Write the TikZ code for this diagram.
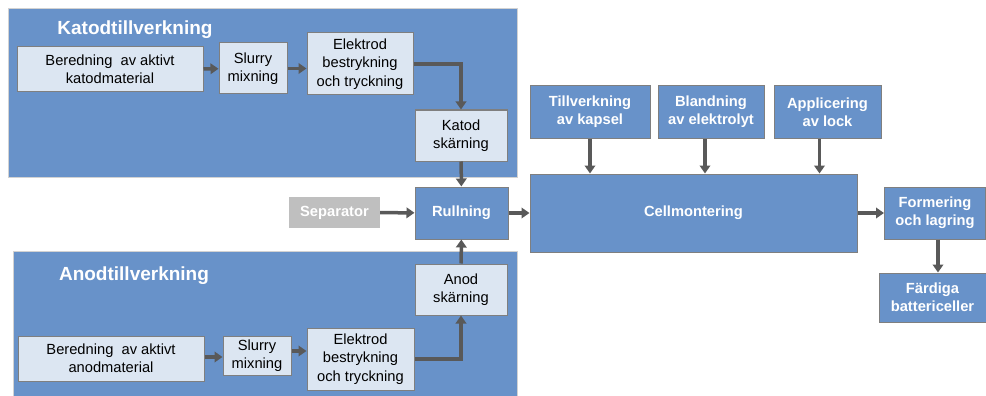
\documentclass[tikz,border=0pt]{standalone}
\usepackage{fontspec}
\setmainfont{Liberation Sans}
\usepackage{tikz}
\usepackage{xcolor}
\usetikzlibrary{arrows.meta, positioning, calc}
\definecolor{flowblue}{HTML}{6892C9}
\definecolor{liteblue}{HTML}{DCE6F2}
\definecolor{edgegray}{HTML}{7F7F7F}
\definecolor{arrowgray}{HTML}{595959}
\definecolor{sepgray}{HTML}{BFBFBF}

\begin{document}
\begin{tikzpicture}[x=1pt, y=-1pt,
  every node/.style={font=\fontsize{14.7}{18.3}\selectfont, align=center, inner sep=0pt},
  panel/.style={fill=flowblue, draw=gray!35, line width=1pt},
  litebox/.style={draw=edgegray, fill=liteblue, line width=1pt},
  bluebox/.style={draw=edgegray, fill=flowblue, line width=1pt, text=white, font=\fontsize{14.7}{18.3}\selectfont\bfseries},
  flow/.style={draw=arrowgray, line width=3.5pt, -{Triangle[length=8pt, width=10.5pt]}}]
  \useasboundingbox (0,0) rectangle (986,396);
  \draw[panel] (8,9) rectangle (517,177);
  \draw[panel] (13,251) rectangle (517,400);
  \node[text=white, font=\fontsize{19}{22}\selectfont\bfseries] (kattitle) at (135,30) {Katodtillverkning};
  \node[text=white, font=\fontsize{19}{22}\selectfont\bfseries] (antitle) at (134,276) {Anodtillverkning};
  \node[litebox, minimum width=186pt, minimum height=45pt] (kber) at (110,69.5) {Beredning\ \ av aktivt\\katodmaterial};
  \node[litebox, minimum width=68pt, minimum height=51pt] (kslurry) at (253,68.5) {Slurry\\mixning};
  \node[litebox, minimum width=106pt, minimum height=62pt] (kelek) at (360,64) {Elektrod\\bestrykning\\och tryckning};
  \node[litebox, minimum width=92pt, minimum height=51pt] (kskar) at (461,135.5) {Katod\\skärning};
  \node[bluebox, minimum width=93pt, minimum height=52pt] (rull) at (461.5,213) {Rullning};
  \node[fill=sepgray, text=white, font=\fontsize{14.7}{18.3}\selectfont\bfseries, minimum width=91pt, minimum height=31pt] (sep) at (334.5,212.5) {Separator};
  \node[litebox, minimum width=92pt, minimum height=51pt] (askar) at (461,289.5) {Anod\\skärning};
  \node[litebox, minimum width=186pt, minimum height=45pt] (aber) at (111,358.5) {Beredning\ \ av aktivt\\anodmaterial};
  \node[litebox, minimum width=68pt, minimum height=39pt] (aslurry) at (257,355.5) {Slurry\\mixning};
  \node[litebox, minimum width=107pt, minimum height=62pt] (aelek) at (360.5,359) {Elektrod\\bestrykning\\och tryckning};
  \node[bluebox, minimum width=120pt, minimum height=52pt] (kapsel) at (590,112) {Tillverkning\\av kapsel};
  \node[bluebox, minimum width=106pt, minimum height=52pt] (elyt) at (711,112) {Blandning\\av elektrolyt};
  \node[bluebox, minimum width=107pt, minimum height=52pt] (lock) at (827.5,112) {Applicering\\av lock};
  \node[bluebox, minimum width=327pt, minimum height=78pt] (cell) at (693.5,213) {Cellmontering};
  \node[bluebox, minimum width=101pt, minimum height=52pt] (form) at (935,213) {Formering\\och lagring};
  \node[bluebox, minimum width=107pt, minimum height=49pt] (fard) at (932.5,297.5) {Färdiga\\battericeller};
  \draw[flow] (kber) -- (kslurry);
  \draw[flow] (kslurry.east) -- (kslurry.east -| kelek.west);
  \draw[flow] (kelek.east) -| (kskar.north);
  \draw[flow] (kskar) -- (rull);
  \draw[flow] ([yshift=1.5pt]aber.east) -- ([yshift=1.5pt]aber.east -| aslurry.west);
  \draw[flow] ([yshift=4.5pt]aslurry.east) -- ([yshift=4.5pt]aslurry.east -| aelek.west);
  \draw[flow] (aelek.east) -| (askar.south);
  \draw[flow] (askar) -- (rull);
  \draw[flow] (sep) -- (rull);
  \draw[flow] (rull) -- (cell);
  \draw[flow] (kapsel.south) -- (kapsel.south |- cell.north);
  \draw[flow] ([xshift=-6pt]elyt.south) -- ([xshift=-6pt]elyt.south |- cell.north);
  \draw[flow] ([xshift=-8pt]lock.south) -- ([xshift=-8pt]lock.south |- cell.north);
  \draw[flow] (cell) -- (form);
  \draw[flow] ([xshift=3pt]form.south) -- ([xshift=3pt]form.south |- fard.north);
\end{tikzpicture}
\end{document}
